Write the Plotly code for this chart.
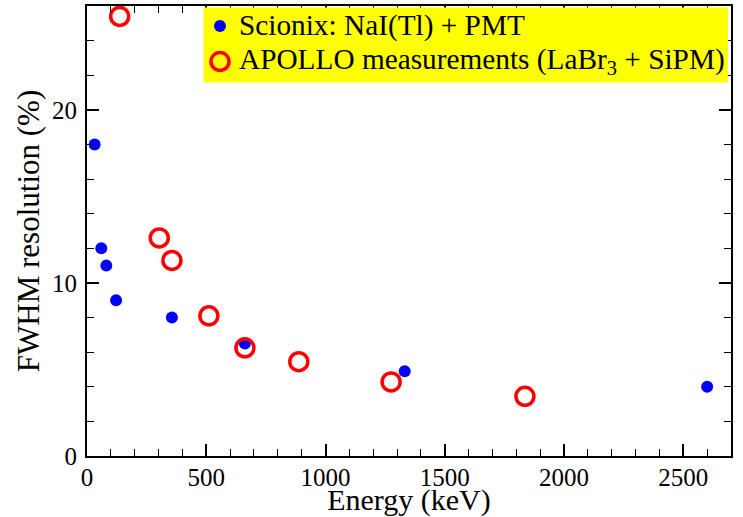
import plotly.graph_objects as go

# Scionix: NaI(Tl) + PMT
scionix_name = "Scionix: NaI(Tl) + PMT"
scionix_energy = [32, 60, 81, 122, 356, 662, 1332, 2600]
scionix_fwhm = [18.0, 12.0, 11.0, 9.0, 8.0, 6.5, 4.9, 4.0]

# APOLLO measurements (LaBr3 + SiPM)
apollo_name = "APOLLO measurements (LaBr<sub>3</sub> + SiPM)"
apollo_energy = [137, 303, 356, 511, 662, 888, 1275, 1836]
apollo_fwhm = [25.4, 12.6, 11.3, 8.1, 6.25, 5.45, 4.28, 3.45]

x_ticks = [0, 500, 1000, 1500, 2000, 2500]
y_ticks = [0, 10, 20]

FONT = "Liberation Serif"
BLUE = "#0000ff"
RED = "#ff0000"

fig = go.Figure()
fig.add_trace(go.Scatter(
    x=scionix_energy, y=scionix_fwhm, mode="markers",
    name=scionix_name, showlegend=False,
    marker=dict(symbol="circle", size=12, color=BLUE, line=dict(width=0)),
))
fig.add_trace(go.Scatter(
    x=apollo_energy, y=apollo_fwhm, mode="markers",
    name=apollo_name, showlegend=False,
    marker=dict(symbol="circle-open", size=18, color=RED, line=dict(width=3.5, color=RED)),
))

axis_common = dict(
    showline=True, linecolor="black", linewidth=2, mirror="ticks",
    ticks="inside", tickcolor="black", tickwidth=1.5, ticklen=12,
    showgrid=False, zeroline=False,
    tickfont=dict(family=FONT, size=25, color="black"),
)

fig.update_xaxes(
    range=[0, 2700], tickvals=x_ticks, ticktext=[str(v) for v in x_ticks],
    minor=dict(dtick=100, ticks="inside", ticklen=7, tickwidth=1.2, tickcolor="black", showgrid=False),
    title=dict(text="Energy (keV)", font=dict(family=FONT, size=30, color="black"), standoff=0),
    ticklabelstandoff=-2,
    **axis_common,
)
fig.update_yaxes(
    range=[0, 26], tickvals=y_ticks, ticktext=[str(v) for v in y_ticks],
    minor=dict(dtick=2, ticks="inside", ticklen=7, tickwidth=1.2, tickcolor="black", showgrid=False),
    title=dict(text="FWHM resolution (%)", font=dict(family=FONT, size=31, color="black"), standoff=3),
    ticklabelstandoff=3,
    **axis_common,
)

# Legend box (yellow panel with symbols and labels, in paper coordinates)
fig.add_shape(type="rect", xref="paper", yref="paper",
              x0=0.1809, x1=0.9953, y0=0.830, y1=0.9967,
              fillcolor="#ffff00", line=dict(width=0), layer="above")
fig.add_shape(type="circle", xref="paper", yref="paper",
              xsizemode="pixel", ysizemode="pixel",
              xanchor=0.2065, yanchor=0.9556, x0=-6, x1=6, y0=-6, y1=6,
              fillcolor=BLUE, line=dict(width=0), layer="above")
fig.add_shape(type="circle", xref="paper", yref="paper",
              xsizemode="pixel", ysizemode="pixel",
              xanchor=0.2065, yanchor=0.8767, x0=-9, x1=9, y0=-9, y1=9,
              fillcolor="rgba(0,0,0,0)", line=dict(width=3.5, color=RED), layer="above")
fig.add_annotation(text=scionix_name, xref="paper", yref="paper",
                   x=0.2335, y=0.9556, xanchor="left", yanchor="middle",
                   showarrow=False, font=dict(family=FONT, size=29.3, color="black"))
fig.add_annotation(text=apollo_name, xref="paper", yref="paper",
                   x=0.2335, y=0.8767, xanchor="left", yanchor="middle",
                   showarrow=False, font=dict(family=FONT, size=29.3, color="black"))

fig.update_layout(
    width=743, height=517,
    margin=dict(l=87, r=12, t=6, b=61, autoexpand=False),
    plot_bgcolor="white", paper_bgcolor="white",
    showlegend=False,
)

fig.write_html("out.html", config={"displayModeBar": False},
               post_script="document.body.style.margin='0';")
